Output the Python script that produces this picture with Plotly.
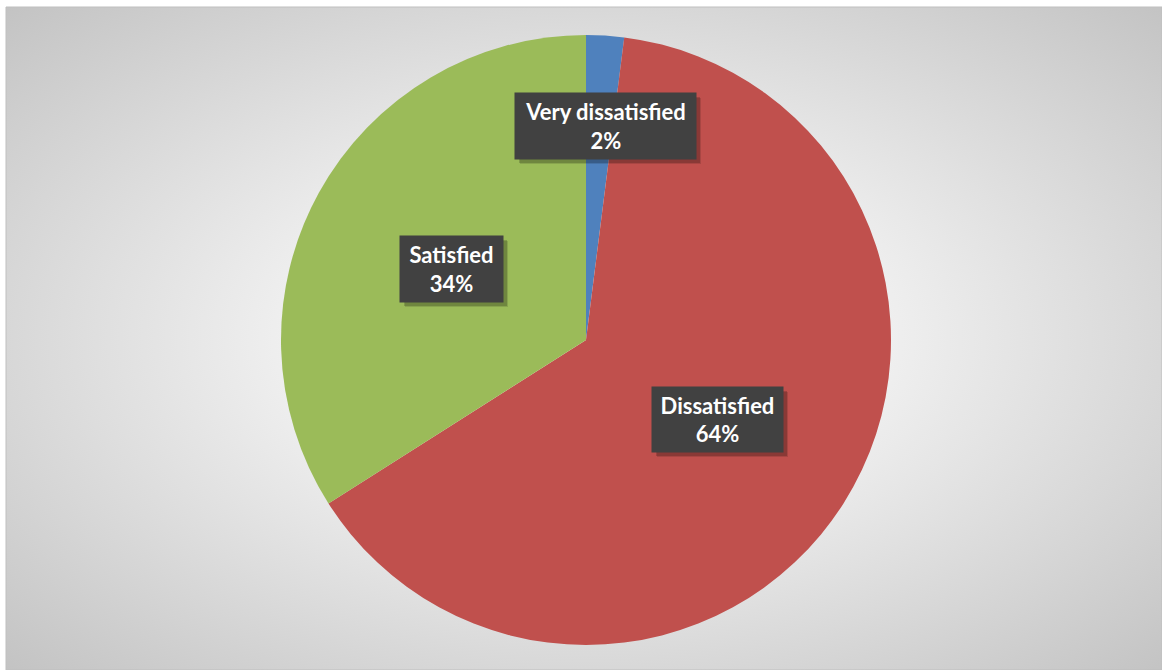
import base64
import plotly.graph_objects as go

# Survey response shares
categories = ["Very dissatisfied", "Dissatisfied", "Satisfied"]
shares = [2, 64, 34]
slice_colors = ["#4f81bd", "#c0504d", "#9bbb59"]

W, H = 1162, 670

# Label box centres and sizes in pixels
label_pos = {
    "Very dissatisfied": (605.5, 126),
    "Dissatisfied": (717.5, 419.5),
    "Satisfied": (451.5, 269),
}
label_size = {
    "Very dissatisfied": (181, 66),
    "Dissatisfied": (131, 65),
    "Satisfied": (103, 66),
}

# Radial grey background as an inline SVG
svg = (
    '<svg xmlns="http://www.w3.org/2000/svg" width="1156" height="663" '
    'viewBox="0 0 1156 663" preserveAspectRatio="none">'
    '<defs><radialGradient id="g" cx="0.503" cy="0.5" r="0.72" fx="0.503" fy="0.5">'
    '<stop offset="0" stop-color="#ffffff"/>'
    '<stop offset="0.25" stop-color="#f7f7f7"/>'
    '<stop offset="1" stop-color="#c2c2c2"/>'
    '</radialGradient></defs>'
    '<rect x="0" y="0" width="1156" height="663" fill="url(#g)"/>'
    '</svg>'
)
bg_uri = "data:image/svg+xml;base64," + base64.b64encode(svg.encode()).decode()

fig = go.Figure()
fig.add_trace(go.Pie(
    labels=categories,
    values=shares,
    sort=False,
    direction="clockwise",
    rotation=0,
    marker=dict(colors=slice_colors, line=dict(width=0)),
    textinfo="none",
    hoverinfo="label+percent",
    showlegend=False,
    domain=dict(x=[281 / W, 891 / W], y=[1 - 645 / H, 1 - 35 / H]),
))

shapes = [dict(
    type="rect", xref="paper", yref="paper",
    x0=6 / W, y0=0, x1=1, y1=1 - 7 / H,
    line=dict(color="#bfbfbf", width=1), layer="below",
)]
annotations = []
for cat, val in zip(categories, shares):
    cx, cy = label_pos[cat]
    bw, bh = label_size[cat]
    # soft drop shadow behind each label box
    for off, alpha in ((5, 0.12), (4, 0.18)):
        shapes.append(dict(
            type="rect", xref="paper", yref="paper",
            x0=(cx - bw / 2 + off) / W, x1=(cx + bw / 2 + off) / W,
            y0=1 - (cy + bh / 2 + off) / H, y1=1 - (cy - bh / 2 + off) / H,
            fillcolor=f"rgba(0,0,0,{alpha})", line=dict(width=0), layer="above",
        ))
    annotations.append(dict(
        x=cx / W, y=1 - cy / H, xref="paper", yref="paper",
        text=f"<b>{cat}<br>{val}%</b>", showarrow=False,
        width=bw, height=bh, borderpad=0,
        bgcolor="#414141", font=dict(family="Lato", size=22, color="#ffffff"),
        xanchor="center", yanchor="middle",
    ))

fig.update_layout(
    width=W, height=H,
    margin=dict(l=0, r=0, t=0, b=0),
    paper_bgcolor="#ffffff",
    plot_bgcolor="rgba(0,0,0,0)",
    images=[dict(
        source=bg_uri, xref="paper", yref="paper",
        x=6 / W, y=1 - 7 / H, sizex=(W - 6) / W, sizey=(H - 7) / H,
        xanchor="left", yanchor="top", sizing="stretch", layer="below",
    )],
    shapes=shapes,
    annotations=annotations,
)

fig.write_html("out.html")
